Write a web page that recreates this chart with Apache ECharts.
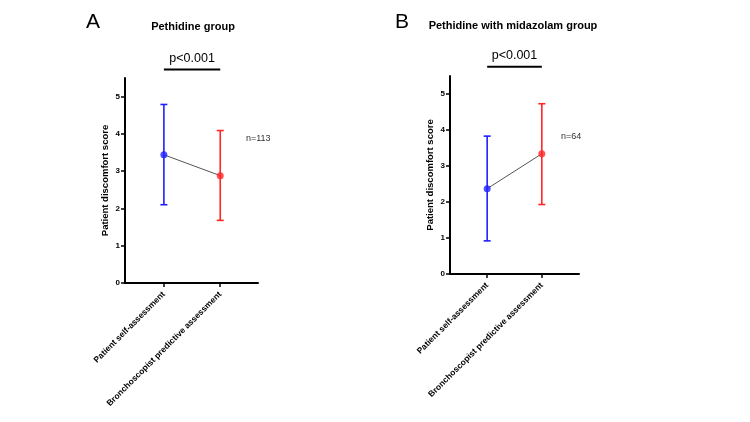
<!DOCTYPE html>
<html>
<head>
<meta charset="utf-8">
<script src="https://cdn.jsdelivr.net/npm/echarts@6/dist/echarts.min.js"></script>
<style>
html, body { margin: 0; padding: 0; background: #fff; }
#chart { width: 750px; height: 422px; }
</style>
</head>
<body>
<div id="chart"></div>
<script>
// data (mean with SD bars)
var categories = ['Patient self-assessment', 'Bronchoscopist predictive assessment'];
var xPos = [1, 2];
var yTicks = [0, 1, 2, 3, 4, 5];
var meanA = [3.44, 2.88];
var upperA = [4.79, 4.09];
var lowerA = [2.10, 1.68];
var meanB = [2.37, 3.34];
var upperB = [3.83, 4.73];
var lowerB = [0.92, 1.93];
var panelLetters = ['A', 'B'];
var panelTitles = ['Pethidine group', 'Pethidine with midazolam group'];
var pTexts = ['p<0.001', 'p<0.001'];
var nTexts = ['n=113', 'n=64'];
var bracketY = [5.73, 5.76];

var colors = ['#2020ff', '#ff2626'];
var FONT = 'Liberation Sans, Arial, sans-serif';

var chart = echarts.init(document.getElementById('chart'));

/* x axis for one panel, categories placed on value positions 1 and 2 */
function makeXAxis(idx, min, max) {
    return {
        type: 'value', gridIndex: idx, min: min, max: max,
        splitLine: { show: false },
        axisLine: { lineStyle: { color: '#000', width: 2 } },
        axisTick: { customValues: xPos, length: 4, lineStyle: { color: '#000', width: 1.5 } },
        axisLabel: {
            customValues: xPos, rotate: 45, margin: 10,
            fontFamily: FONT, fontSize: 8.5, fontWeight: 'bold', color: '#000',
            formatter: function (v) { return categories[Math.round(v) - 1]; }
        }
    };
}

function makeYAxis(idx) {
    return {
        type: 'value', gridIndex: idx, min: 0, max: 5.5,
        name: 'Patient discomfort score', nameLocation: 'middle', nameGap: 15,
        nameTextStyle: { fontFamily: FONT, fontSize: 9.5, fontWeight: 'bold', color: '#000' },
        splitLine: { show: false },
        axisLine: { show: true, lineStyle: { color: '#000', width: 2 } },
        axisTick: { show: true, customValues: yTicks, length: 4, lineStyle: { color: '#000', width: 1.5 } },
        axisLabel: {
            customValues: yTicks, margin: 5,
            fontFamily: FONT, fontSize: 8, fontWeight: 'bold', color: '#000'
        }
    };
}

/* error bar with caps */
function errorBarItem(params, api) {
    var x = api.value(0);
    var top = api.coord([x, api.value(2)]);
    var bot = api.coord([x, api.value(1)]);
    var c = colors[params.dataIndex];
    var st = { stroke: c, lineWidth: 1.6 };
    var w = 3.5;
    return {
        type: 'group',
        children: [
            { type: 'line', shape: { x1: top[0], y1: top[1], x2: bot[0], y2: bot[1] }, style: st },
            { type: 'line', shape: { x1: top[0] - w, y1: top[1], x2: top[0] + w, y2: top[1] }, style: st },
            { type: 'line', shape: { x1: bot[0] - w, y1: bot[1], x2: bot[0] + w, y2: bot[1] }, style: st }
        ]
    };
}

/* significance bar with p text above */
function bracketItem(params, api) {
    var a = api.coord([api.value(0), api.value(2)]);
    var b = api.coord([api.value(1), api.value(2)]);
    var panel = api.value(3);
    return {
        type: 'group',
        children: [
            { type: 'line', shape: { x1: a[0], y1: a[1], x2: b[0], y2: b[1] }, style: { stroke: '#000', lineWidth: 2 } },
            {
                type: 'text', x: (a[0] + b[0]) / 2, y: a[1] - 11,
                style: {
                    text: pTexts[panel], fontFamily: FONT, fontSize: 12.5,
                    fill: '#000', align: 'center', verticalAlign: 'middle'
                }
            }
        ]
    };
}

function panelSeries(idx, mean, lower, upper) {
    var pts = xPos.map(function (x, i) { return [x, mean[i]]; });
    var bars = xPos.map(function (x, i) { return [x, lower[i], upper[i]]; });
    return [
        {
            type: 'line', xAxisIndex: idx, yAxisIndex: idx, data: pts,
            symbol: 'none', lineStyle: { color: '#555', width: 1 }, z: 1, silent: true
        },
        {
            type: 'custom', xAxisIndex: idx, yAxisIndex: idx, data: bars,
            renderItem: errorBarItem, z: 2, silent: true
        },
        {
            type: 'scatter', xAxisIndex: idx, yAxisIndex: idx, symbolSize: 7, z: 3, silent: true,
            data: pts.map(function (p, i) { return { value: p, itemStyle: { color: colors[i] } }; })
        },
        {
            type: 'custom', xAxisIndex: idx, yAxisIndex: idx, clip: false, silent: true,
            data: [[xPos[0], xPos[1], bracketY[idx], idx]],
            renderItem: bracketItem, z: 4
        }
    ];
}

var textStyle = function (size, weight) {
    return { fontFamily: FONT, fontSize: size, fontWeight: weight, fill: '#000', align: 'center', verticalAlign: 'middle' };
};

option = {
    animation: false,
    backgroundColor: '#fff',
    grid: [
        { left: 125, top: 78, width: 133, height: 205 },
        { left: 450, top: 76, width: 129, height: 198 }
    ],
    xAxis: [makeXAxis(0, 0.31, 2.67), makeXAxis(1, 0.32, 2.68)],
    yAxis: [makeYAxis(0), makeYAxis(1)],
    graphic: [
        { type: 'text', x: 93, y: 22, style: Object.assign(textStyle(21, 'normal'), { text: panelLetters[0] }) },
        { type: 'text', x: 193, y: 27, style: Object.assign(textStyle(11, 'bold'), { text: panelTitles[0] }) },
        { type: 'text', x: 246, y: 139, style: Object.assign(textStyle(9, 'normal'), { text: nTexts[0], align: 'left', fill: '#333' }) },
        { type: 'text', x: 402, y: 22, style: Object.assign(textStyle(21, 'normal'), { text: panelLetters[1] }) },
        { type: 'text', x: 513, y: 26, style: Object.assign(textStyle(11, 'bold'), { text: panelTitles[1] }) },
        { type: 'text', x: 561, y: 137, style: Object.assign(textStyle(9, 'normal'), { text: nTexts[1], align: 'left', fill: '#333' }) }
    ],
    series: [].concat(
        panelSeries(0, meanA, lowerA, upperA),
        panelSeries(1, meanB, lowerB, upperB)
    )
};

chart.setOption(option);
</script>
</body>
</html>
